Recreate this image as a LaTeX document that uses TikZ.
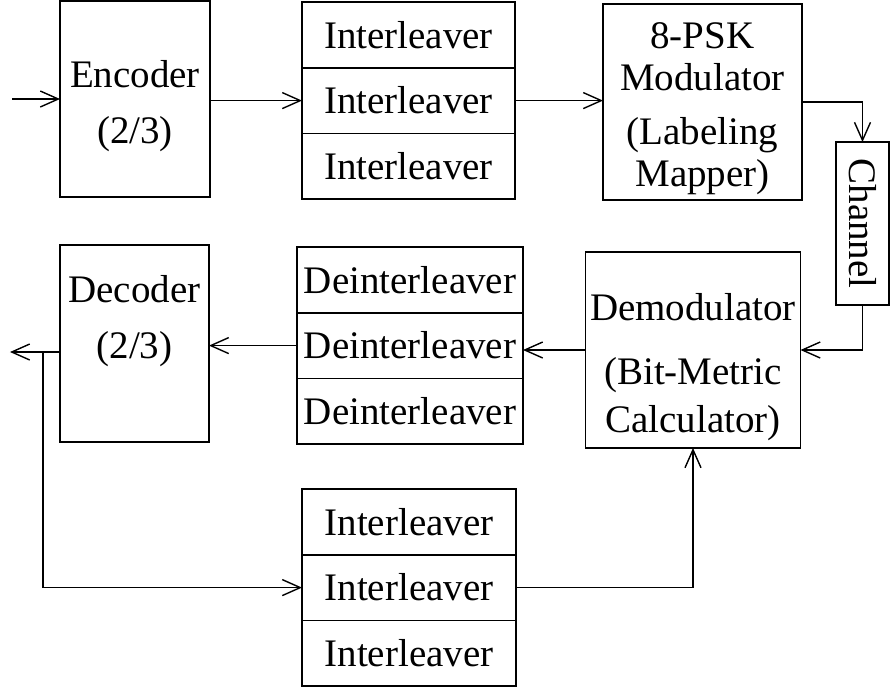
\documentclass[tikz,border=0pt]{standalone}
\usepackage{fontspec}
\setmainfont{Liberation Serif}
\usepackage{tikz}
\usetikzlibrary{arrows.meta,positioning}

\begin{document}
\begin{tikzpicture}[
   x=0.5pt, y=-0.5pt,
   node distance=0pt,
   box/.style={draw, line width=0.8pt, align=center, inner sep=0pt, outer sep=0pt,
               font=\fontsize{19.5}{21}\selectfont},
   txt/.style={align=center, inner sep=0pt, font=\fontsize{19.5}{21}\selectfont},
   cell/.style={box, minimum height=32.8pt},
   ar/.style={-{Straight Barb[length=9pt, width=8pt]}, line width=0.7pt}
]
\useasboundingbox (0,0) rectangle (891,692);

% transmitter
\node[box, minimum width=75pt, minimum height=98pt] (enc) at (135,99) {};
\node[txt] (enctxt) at (135,106) {Encoder\\[7pt](2/3)};
\node[cell, minimum width=106.5pt] (il1a) at (408.5,35) {Interleaver};
\node[cell, minimum width=106.5pt, below=of il1a] (il1b) {Interleaver};
\node[cell, minimum width=106.5pt, below=of il1b] (il1c) {Interleaver};
\node[box, minimum width=99.5pt, minimum height=98pt] (psk) at (702.5,102) {};
\node[txt] (psktxt) at (702.5,109) {8-PSK\\Modulator\\[6pt](Labeling\\Mapper)};
\node[box, minimum width=26.5pt, minimum height=81.5pt] (chan) at (862.5,223.5) {\rotatebox{-90}{Channel}};

% receiver
\node[box, minimum width=107.5pt, minimum height=98pt] (demod) at (693,350) {};
\node[txt] (demodtxt) at (693,367) {Demodulator\\[11pt](Bit-Metric\\[3pt]Calculator)};
\node[cell, minimum width=113pt] (dila) at (410,280) {Deinterleaver};
\node[cell, minimum width=113pt, below=of dila] (dilb) {Deinterleaver};
\node[cell, minimum width=113pt, below=of dilb] (dilc) {Deinterleaver};
\node[box, minimum width=74.5pt, minimum height=98.5pt] (dec) at (134.5,343.5) {};
\node[txt] (dectxt) at (134.5,321) {Decoder\\[7pt](2/3)};

% feedback interleaver
\node[cell, minimum width=107pt] (il2a) at (409,522) {Interleaver};
\node[cell, minimum width=107pt, below=of il2a] (il2b) {Interleaver};
\node[cell, minimum width=107pt, below=of il2b] (il2c) {Interleaver};

\coordinate (in) at (12,99);
\coordinate (out) at (10,352);
\coordinate (tap) at (43,352);

\draw[ar] (in) -- (enc.west);
\draw[ar] (enc.east |- il1b) -- (il1b.west);
\draw[ar] (il1b.east) -- (il1b.east -| psk.west);
\draw[ar] (psk.east) -| (chan.north);
\draw[ar] (chan.south) |- (demod.east);
\draw[ar] (demod.west) -- (demod.west -| dilb.east);
\draw[ar] (dilb.west) -- (dilb.west -| dec.east);
\draw[ar] (dec.west |- out) -- (out);
\draw[ar] (tap) |- (il2b.west);
\draw[ar] (il2b.east) -| (demod.south);
\end{tikzpicture}
\end{document}
